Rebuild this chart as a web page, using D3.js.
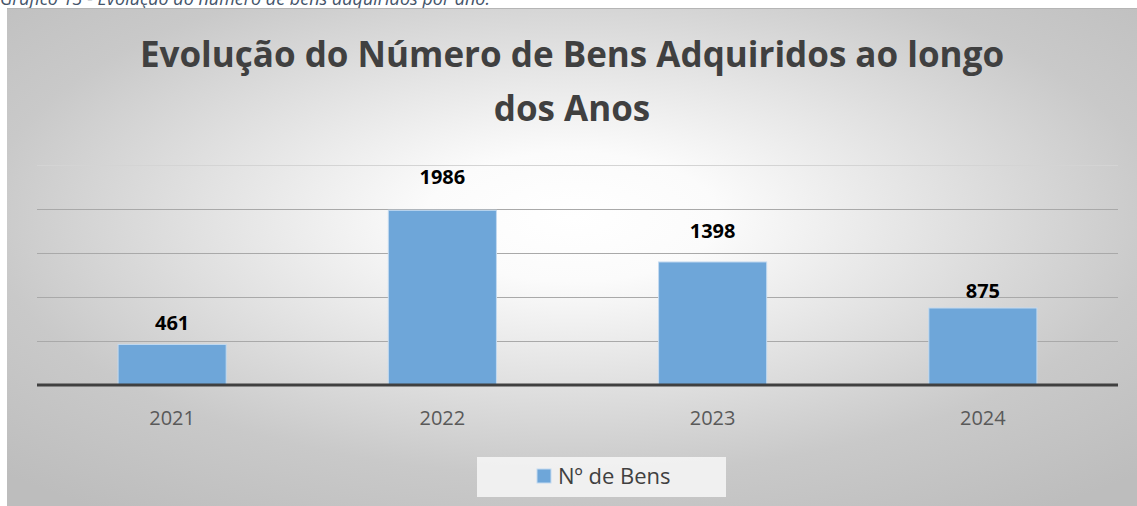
<!DOCTYPE html>
<html lang="pt">
<head>
  <meta charset="utf-8" />
  <title>Evolução do Número de Bens Adquiridos</title>
  <script src="https://cdn.jsdelivr.net/npm/d3@7"></script>
  <style>
    html, body { margin: 0; padding: 0; background: #fff; }
    svg { display: block; font-family: "Open Sans", sans-serif; }
  </style>
</head>
<body>
<svg id="chart" width="1137" height="506"></svg>
<script>
// dados
var anos = ["2021", "2022", "2023", "2024"];
var bens = [461, 1986, 1398, 875];
var yTicks = [0, 500, 1000, 1500, 2000, 2500];
var serieNome = "Nº de Bens";
var titulo = ["Evolução do Número de Bens Adquiridos ao longo", "dos Anos"];
var legenda = "Gráfico 13 - Evolução do número de bens adquiridos por ano.";

// ajuste manual dos rótulos (como no original)
var labelLift = { "2021": 14, "2022": 26, "2023": 24, "2024": 10 };

var svg = d3.select("#chart");

// fundo com gradiente radial
var defs = svg.append("defs");
var grad = defs.append("radialGradient")
    .attr("id", "bg")
    .attr("cx", "0.5").attr("cy", "0.42").attr("r", "0.72");
grad.append("stop").attr("offset", "0").attr("stop-color", "#ffffff");
grad.append("stop").attr("offset", "0.18").attr("stop-color", "#fbfbfb");
grad.append("stop").attr("offset", "0.72").attr("stop-color", "#c9c9c9");
grad.append("stop").attr("offset", "1").attr("stop-color", "#bdbdbd");

// legenda do gráfico (cortada no topo como no original)
svg.append("text")
    .attr("x", 0).attr("y", 5)
    .attr("font-size", 18)
    .attr("font-style", "italic")
    .attr("fill", "#44546a")
    .text(legenda);

svg.append("rect")
    .attr("x", 7).attr("y", 8)
    .attr("width", 1130).attr("height", 498)
    .attr("fill", "url(#bg)");
svg.append("line")
    .attr("x1", 7).attr("x2", 1137).attr("y1", 8.5).attr("y2", 8.5)
    .attr("stroke", "#b5b5b5");

// título
svg.append("text")
    .attr("text-anchor", "middle")
    .attr("font-size", 35)
    .attr("font-weight", "bold")
    .attr("fill", "#404040")
  .selectAll("tspan")
  .data(titulo)
  .join("tspan")
    .attr("x", 572)
    .attr("y", function(d, i) { return 67 + i * 54; })
    .text(function(d) { return d; });

// escalas
var x = d3.scaleBand()
    .domain(anos)
    .range([37, 1118])
    .paddingInner(0.6)
    .paddingOuter(0.3);

var y = d3.scaleLinear()
    .domain([0, 2500])
    .range([385, 165]);

// linhas de grade
svg.append("g")
  .selectAll("line")
  .data(yTicks.filter(function(d) { return d > 0; }))
  .join("line")
    .attr("x1", 37).attr("x2", 1118)
    .attr("y1", function(d) { return Math.round(y(d)) + 0.5; })
    .attr("y2", function(d) { return Math.round(y(d)) + 0.5; })
    .attr("stroke", function(d) { return d === 2500 ? "#d4d4d4" : "#a9a9a9"; })
    .attr("stroke-width", 1);

// barras
svg.append("g")
  .selectAll("rect")
  .data(bens)
  .join("rect")
    .attr("x", function(d, i) { return x(anos[i]); })
    .attr("y", function(d) { return y(d); })
    .attr("width", x.bandwidth())
    .attr("height", function(d) { return y(0) - y(d); })
    .attr("fill", "#6ea6d9")
    .attr("stroke", "#c3daf0")
    .attr("stroke-width", 1);

// rótulos de dados
svg.append("g")
  .selectAll("text")
  .data(bens)
  .join("text")
    .attr("x", function(d, i) { return x(anos[i]) + x.bandwidth() / 2; })
    .attr("y", function(d, i) { return y(d) - labelLift[anos[i]]; })
    .attr("text-anchor", "middle")
    .attr("font-size", 20)
    .attr("font-weight", "bold")
    .attr("fill", "#000")
    .text(function(d) { return d; });

// eixo x
var xAxis = svg.append("g")
    .attr("transform", "translate(0," + y(0) + ")")
    .call(d3.axisBottom(x).tickSize(0).tickPadding(26));
xAxis.select(".domain").remove();
xAxis.selectAll("text")
    .attr("font-family", "Open Sans, sans-serif")
    .attr("font-size", 20)
    .attr("fill", "#595959");

svg.append("line")
    .attr("x1", 37).attr("x2", 1118)
    .attr("y1", y(0)).attr("y2", y(0))
    .attr("stroke", "#404040")
    .attr("stroke-width", 3);

// legenda
var leg = svg.append("g");
leg.append("rect")
    .attr("x", 477).attr("y", 457)
    .attr("width", 249).attr("height", 40)
    .attr("fill", "#f7f7f7")
    .attr("fill-opacity", 0.85);
leg.append("rect")
    .attr("x", 537).attr("y", 469)
    .attr("width", 14).attr("height", 14)
    .attr("fill", "#6ea6d9")
    .attr("stroke", "#c3daf0");
leg.append("text")
    .attr("x", 558).attr("y", 484)
    .attr("font-size", 22)
    .attr("fill", "#404040")
    .text(serieNome);
</script>
</body>
</html>
